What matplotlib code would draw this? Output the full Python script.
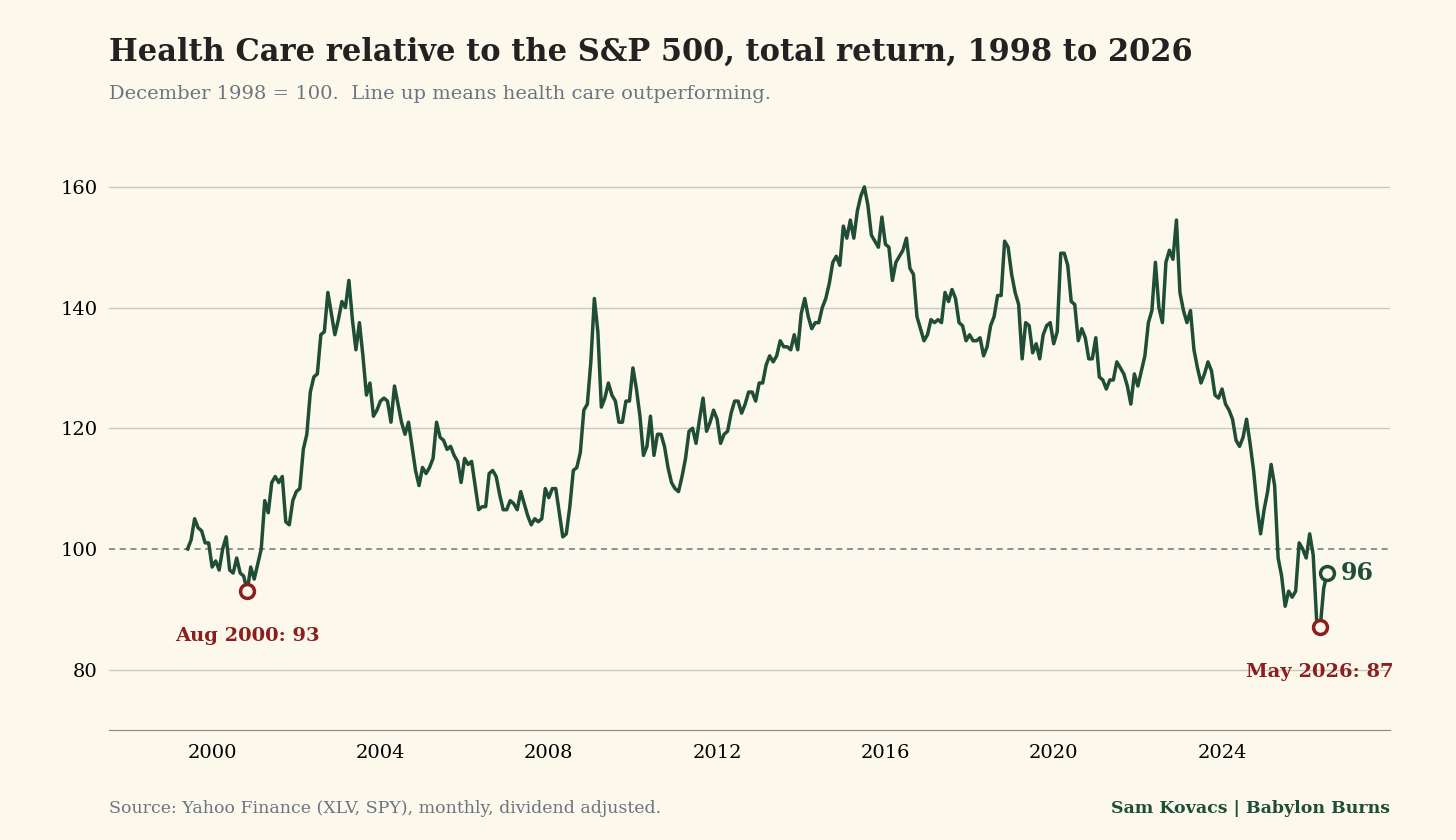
import matplotlib.pyplot as plt
import numpy as np

# monthly relative index, Dec 1998 = 100
ratio = [
    100, 101.5, 105, 103.5, 103, 101, 101, 97, 98, 96.5, 100, 102, 96.5, 96, 98.5, 96, 95.5, 93,
    97, 95, 97.5, 100, 108, 106, 111, 112, 111, 112, 104.5, 104, 108, 109.5, 110, 116.5, 119,
    126, 128.5, 129, 135.5, 136, 142.5, 139, 135.5, 138, 141, 140, 144.5, 138, 133, 137.5, 132,
    125.5, 127.5, 122, 123, 124.5, 125, 124.5, 121, 127, 124, 121, 119, 121, 117, 113, 110.5,
    113.5, 112.5, 113.5, 115, 121, 118.5, 118, 116.5, 117, 115.5, 114.5, 111, 115, 114, 114.5,
    110.5, 106.5, 107, 107, 112.5, 113, 112, 109, 106.5, 106.5, 108, 107.5, 106.5, 109.5, 107.5,
    105.5, 104, 105, 104.5, 105, 110, 108.5, 110, 110, 106, 102, 102.5, 107, 113, 113.5, 116,
    123, 124, 131, 141.5,
    136, 123.5, 125, 127.5, 125.5, 124.5, 121, 121, 124.5, 124.5, 130, 126.5, 122, 115.5, 117,
    122, 115.5, 119, 119, 117, 113.5, 111, 110, 109.5, 112, 115, 119.5, 120, 117.5, 121.5, 125,
    119.5, 121, 123, 121.5, 117.5, 119, 119.5, 122.5, 124.5, 124.5, 122.5, 124, 126, 126, 124.5,
    127.5, 127.5, 130.5, 132, 131, 132, 134.5, 133.5, 133.5, 133, 135.5, 133, 139, 141.5, 138.5,
    136.5, 137.5, 137.5, 140, 141.5, 144, 147.5, 148.5, 147, 153.5, 151.5, 154.5, 151.5, 156,
    158.5, 160, 157, 152, 151, 150, 155, 150.5, 150, 144.5, 147.5, 148.5, 149.5, 151.5, 146.5,
    145.5, 138.5, 136.5, 134.5, 135.5, 138, 137.5, 138, 137.5, 142.5, 141, 143, 141.5, 137.5,
    137, 134.5, 135.5, 134.5, 134.5, 135, 132, 133.5, 137, 138.5, 142, 142, 151, 150, 145.5,
    142.5, 140.5, 131.5, 137.5, 137, 132.5, 134, 131.5, 135.5, 137, 137.5, 134, 136, 149, 149,
    147, 141, 140.5, 134.5, 136.5, 135, 131.5, 131.5, 135, 128.5, 128, 126.5, 128, 128, 131,
    130, 129, 127, 124, 129, 127, 129.5, 132, 137.5, 139.5, 147.5, 140, 137.5, 147.5, 149.5,
    148, 154.5, 142.5, 139.5, 137.5, 139.5, 133, 130, 127.5, 129, 131, 129.5, 125.5, 125, 126.5,
    124, 123, 121.5, 118, 117, 118.5, 121.5, 117.5, 113, 107, 102.5, 106.5, 109.5, 114, 110.5,
    98.5, 95.5, 90.5, 93, 92, 93, 101, 100, 98.5, 102.5, 99, 88, 87, 93.5, 96,
]
years = 2026.5 - np.arange(len(ratio))[::-1] / 12.0

bg = "#fcf9ec"
green = "#1f4d36"
red = "#8b1e1e"
grey = "#6b7580"

plt.rcParams["font.family"] = ["DejaVu Serif"]
fig = plt.figure(figsize=(14.56, 8.4), dpi=100, facecolor=bg)
ax = fig.add_axes([0.0749, 0.131, 0.88, 0.704], facecolor=bg)

ax.set_ylim(70, 168)
ax.set_xlim(1997.55, 2028.0)
ax.set_yticks([80, 100, 120, 140, 160])
ax.set_xticks(range(2000, 2028, 4))
for yv in [80, 120, 140, 160]:
    ax.axhline(yv, color="#c8c8c0", lw=1, zorder=0)
ax.axhline(100, color=grey, lw=1.1, ls=(0, (4, 3)), zorder=1)
for s in ["top", "right", "left"]:
    ax.spines[s].set_visible(False)
ax.spines["bottom"].set_color("#888888")
ax.tick_params(axis="y", length=0, labelsize=14, pad=8)
ax.tick_params(axis="x", length=0, labelsize=14, pad=10)

ax.plot(years, ratio, color=green, lw=2.5, zorder=3)

vals = np.array(ratio)
early = years < 2001.5
i_lo = int(np.argmin(np.where(early, vals, 999)))
i_min = int(np.argmin(vals))
for i in (i_lo, i_min):
    ax.plot(years[i], vals[i], "o", ms=10, mfc=bg, mec=red, mew=2.5, zorder=4)
ax.annotate(f"Aug 2000: {vals[i_lo]:.0f}", (years[i_lo], vals[i_lo]), xytext=(0, -36),
            textcoords="offset points", ha="center", color=red, fontsize=14, fontweight="bold")
ax.annotate(f"May 2026: {vals[i_min]:.0f}", (years[i_min], vals[i_min]), xytext=(0, -36),
            textcoords="offset points", ha="center", color=red, fontsize=14, fontweight="bold")
ax.plot(years[-1], vals[-1], "o", ms=10, mfc=bg, mec=green, mew=2.5, zorder=4)
ax.annotate(f"{vals[-1]:.0f}", (years[-1], vals[-1]), xytext=(10, 0), textcoords="offset points",
            va="center", color=green, fontsize=17, fontweight="bold")

fig.text(0.0749, 0.938, "Health Care relative to the S&P 500, total return, 1998 to 2026",
         fontsize=22, fontweight="bold", color="#222222", va="center")
fig.text(0.0749, 0.888, "December 1998 = 100.  Line up means health care outperforming.",
         fontsize=14, color=grey, va="center")
fig.text(0.0749, 0.037, "Source: Yahoo Finance (XLV, SPY), monthly, dividend adjusted.",
         fontsize=12.5, color=grey, va="center")
fig.text(0.9547, 0.037, "Sam Kovacs | Babylon Burns", fontsize=12.5, color=green,
         fontweight="bold", ha="right", va="center")

fig.savefig("out.png", dpi=100, facecolor=bg)
